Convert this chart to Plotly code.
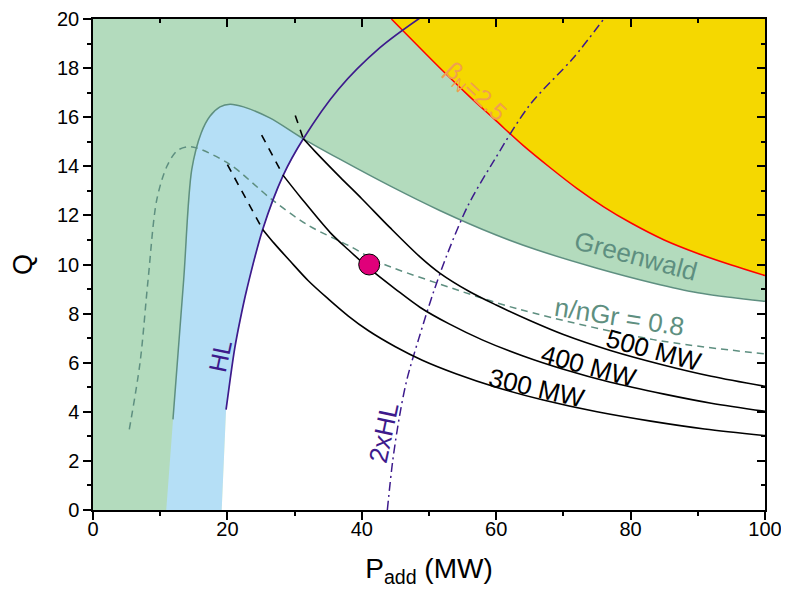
import plotly.graph_objects as go

# ---------------- data ----------------
# left (green/blue) boundary of accessible region, bottom to top, then along Greenwald
blue_left_x = [10.9, 11.9, 13.5, 14.7, 16.1, 17.4, 18.9, 20.4, 22.4, 26.3, 31.3]
blue_left_y = [0.0, 3.69, 9.4, 13.87, 15.36, 16.04, 16.42, 16.53, 16.42, 15.97, 15.12]

# Greenwald limit line (continues from the left boundary)
gw_x = [11.9, 13.5, 14.7, 16.1, 17.4, 18.9, 20.4, 22.4, 26.3, 31.3, 36.8, 44.2, 51.6, 60.0, 66.0, 75.0, 83.3, 90.0, 100.0]
gw_y = [3.69, 9.4, 13.87, 15.36, 16.04, 16.42, 16.53, 16.42, 15.97, 15.12, 14.28, 13.2, 12.2, 11.2, 10.6, 9.85, 9.25, 8.85, 8.5]

# H-mode threshold (HL)
hl_x = [19.8, 20.4, 21.1, 21.9, 22.9, 25.25, 28.3, 31.3, 36.5, 42.7, 48.7]
hl_y = [4.09, 5.3, 6.6, 7.75, 9.0, 11.43, 13.63, 15.12, 17.13, 18.83, 20.05]
N_HL_LOW = 8  # points of HL up to the Greenwald crossing

# 2 x HL
hl2_x = [43.8, 44.6, 45.6, 46.7, 48.5, 50.7, 52.8, 55.8, 59.6, 65.0, 71.5, 76.0]
hl2_y = [0.0, 2.0, 3.8, 5.3, 7.0, 8.9, 10.48, 12.4, 14.2, 16.5, 18.42, 20.0]

# beta_N = 2.5 limit
beta_x = [44.4, 48.0, 52.0, 56.0, 60.0, 64.0, 68.0, 72.0, 76.0, 80.0, 85.0, 90.0, 95.0, 100.0]
beta_y = [20.0, 19.0, 17.9, 16.85, 15.85, 14.85, 13.95, 13.1, 12.35, 11.7, 11.0, 10.45, 9.98, 9.55]

# n/nGr = 0.8
ngr_x = [5.4, 7.0, 8.2, 9.5, 11.0, 12.45, 13.9, 15.4, 20.4, 26.6, 32.0, 38.2, 42.7, 51.1, 63.5, 83.4, 100.0]
ngr_y = [3.28, 6.0, 9.39, 12.65, 14.0, 14.62, 14.79, 14.75, 14.07, 12.65, 11.6, 10.75, 10.08, 9.25, 8.17, 6.94, 6.36]

# fusion power contours (dashed part inside blue zone, solid part in accessible zone)
p300_dash_x = [20.0, 25.25]
p300_dash_y = [14.07, 11.43]
p300_x = [25.25, 27.0, 29.3, 32.0, 35.0, 38.0, 41.0, 45.0, 49.0, 54.0, 60.0, 67.0, 75.0, 83.0, 91.0, 100.0]
p300_y = [11.43, 10.85, 10.15, 9.35, 8.6, 7.9, 7.3, 6.65, 6.1, 5.55, 5.0, 4.48, 4.0, 3.62, 3.3, 3.03]

p400_dash_x = [25.1, 28.3]
p400_dash_y = [15.27, 13.63]
p400_x = [28.3, 31.0, 35.3, 38.0, 41.2, 45.0, 48.7, 53.0, 58.0, 64.0, 70.0, 77.0, 85.0, 92.0, 100.0]
p400_y = [13.63, 12.7, 11.3, 10.6, 9.82, 9.0, 8.25, 7.58, 6.92, 6.27, 5.73, 5.2, 4.72, 4.35, 4.02]

p500_dash_x = [30.1, 31.3]
p500_dash_y = [16.07, 15.12]
p500_x = [31.3, 33.0, 36.8, 40.0, 44.2, 48.7, 51.6, 56.0, 60.0, 65.0, 70.0, 77.0, 85.0, 92.0, 100.0]
p500_y = [15.12, 14.62, 13.55, 12.68, 11.5, 10.3, 9.65, 8.9, 8.35, 7.72, 7.15, 6.5, 5.9, 5.45, 5.04]

# operating point
op_x = [41.1]
op_y = [10.0]

# ---------------- styles ----------------
GREEN = "#b3dbbd"
BLUE = "#b5dff6"
YELLOW = "#f5d800"
TEAL = "#5e8f80"
PURPLE = "#3d1a8c"
FONT = "Liberation Sans, Arial, sans-serif"
SPL = dict(shape="spline", smoothing=0.9)

fig = go.Figure()

# yellow region above beta limit
fig.add_trace(go.Scatter(x=beta_x + [100, 44.4], y=beta_y + [20, 20], fill="toself",
                         fillcolor=YELLOW, line=dict(width=0), mode="lines", hoverinfo="skip"))

# blue region
bx = blue_left_x + hl_x[:N_HL_LOW][::-1] + [19.15]
by = blue_left_y + hl_y[:N_HL_LOW][::-1] + [0.0]
fig.add_trace(go.Scatter(x=bx, y=by, fill="toself", fillcolor=BLUE, line=dict(width=0),
                         mode="lines", hoverinfo="skip"))

# white (accessible) region
wx = hl_x[:N_HL_LOW] + gw_x[10:] + [100, 19.15]
wy = hl_y[:N_HL_LOW] + gw_y[10:] + [0, 0]
fig.add_trace(go.Scatter(x=wx, y=wy, fill="toself", fillcolor="white", line=dict(width=0),
                         mode="lines", hoverinfo="skip"))

# Greenwald line
fig.add_trace(go.Scatter(x=gw_x, y=gw_y, mode="lines", line=dict(color=TEAL, width=1.5, **SPL)))
# beta line
fig.add_trace(go.Scatter(x=beta_x, y=beta_y, mode="lines", line=dict(color="#ff0000", width=1.5, **SPL)))
# n/nGr dashed
fig.add_trace(go.Scatter(x=ngr_x, y=ngr_y, mode="lines",
                         line=dict(color=TEAL, width=1.5, dash="7px,5px", **SPL)))
# HL
fig.add_trace(go.Scatter(x=hl_x, y=hl_y, mode="lines", line=dict(color=PURPLE, width=1.7, **SPL)))
# 2xHL
fig.add_trace(go.Scatter(x=hl2_x, y=hl2_y, mode="lines",
                         line=dict(color=PURPLE, width=1.5, dash="9px,4px,2px,4px", **SPL)))

# fusion power contours
for dx, dy, sx, sy in [(p300_dash_x, p300_dash_y, p300_x, p300_y),
                       (p400_dash_x, p400_dash_y, p400_x, p400_y),
                       (p500_dash_x, p500_dash_y, p500_x, p500_y)]:
    fig.add_trace(go.Scatter(x=dx, y=dy, mode="lines", line=dict(color="black", width=1.6, dash="8px,7px")))
    fig.add_trace(go.Scatter(x=sx, y=sy, mode="lines", line=dict(color="black", width=1.6, **SPL)))

# operating point
fig.add_trace(go.Scatter(x=op_x, y=op_y, mode="markers",
                         marker=dict(size=21, color="#e0007a", line=dict(color="black", width=1))))

# invisible trace binding the mirrored (inside-tick) axes
fig.add_trace(go.Scatter(x=[50], y=[10], xaxis="x2", yaxis="y2", mode="markers",
                         marker=dict(opacity=0), hoverinfo="skip"))

# ---------------- annotations ----------------
def ann(x, y, text, color, size, angle):
    fig.add_annotation(x=x, y=y, text=text, showarrow=False, textangle=angle,
                       font=dict(family=FONT, size=size, color=color))

ann(80.8, 10.35, "Greenwald", TEAL, 26, 15)
ann(78.4, 7.85, "n/nGr = 0.8", TEAL, 26, 9)
ann(83.4, 6.5, "500 MW", "black", 26, 15)
ann(73.8, 5.85, "400 MW", "black", 26, 15)
ann(66.0, 4.95, "300 MW", "black", 26, 13)
ann(18.9, 6.27, "HL", PURPLE, 25, -78)
ann(43.2, 3.15, "2xHL", PURPLE, 26, -78)
ann(56.8, 17.0, "β<sub>N</sub>=2.5", "#f0a050", 24, 43)

# ---------------- layout ----------------
tickfont = dict(family=FONT, size=20, color="black")
fig.update_layout(
    width=781, height=585,
    margin=dict(l=85, r=24, t=11, b=83),
    paper_bgcolor="white", plot_bgcolor=GREEN,
    showlegend=False,
    xaxis=dict(range=[0, 100], automargin=False, showgrid=False, zeroline=False, showline=True, mirror=True,
               linecolor="black", linewidth=1.5, ticks="outside", ticklen=8, tickwidth=1.5,
               tickcolor="black", dtick=20, tick0=0, tickfont=tickfont, ticklabelstandoff=-8,
               minor=dict(dtick=10, ticks="outside", ticklen=4, tickwidth=1.5, tickcolor="black"),
               title=dict(text="P<sub>add</sub> (MW)", font=dict(family=FONT, size=28, color="black"), standoff=20)),
    yaxis=dict(range=[0, 20], automargin=False, showgrid=False, zeroline=False, showline=True, mirror=True,
               linecolor="black", linewidth=1.5, ticks="outside", ticklen=8, tickwidth=1.5,
               tickcolor="black", dtick=2, tick0=0, tickfont=tickfont,
               minor=dict(dtick=1, ticks="outside", ticklen=4, tickwidth=1.5, tickcolor="black"),
               title=dict(text="Q", font=dict(family=FONT, size=27, color="black"), standoff=22)),
    xaxis2=dict(range=[0, 100], automargin=False, overlaying="x", side="top", showgrid=False, zeroline=False,
                showline=False, ticks="inside", ticklen=8, tickwidth=1.5, tickcolor="black",
                dtick=20, tick0=0, showticklabels=False,
                minor=dict(dtick=10, ticks="inside", ticklen=4, tickwidth=1.5, tickcolor="black")),
    yaxis2=dict(range=[0, 20], automargin=False, overlaying="y", side="right", showgrid=False, zeroline=False,
                showline=False, ticks="inside", ticklen=8, tickwidth=1.5, tickcolor="black",
                dtick=2, tick0=0, showticklabels=False,
                minor=dict(dtick=1, ticks="inside", ticklen=4, tickwidth=1.5, tickcolor="black")),
)

fig.write_html("out.html")
